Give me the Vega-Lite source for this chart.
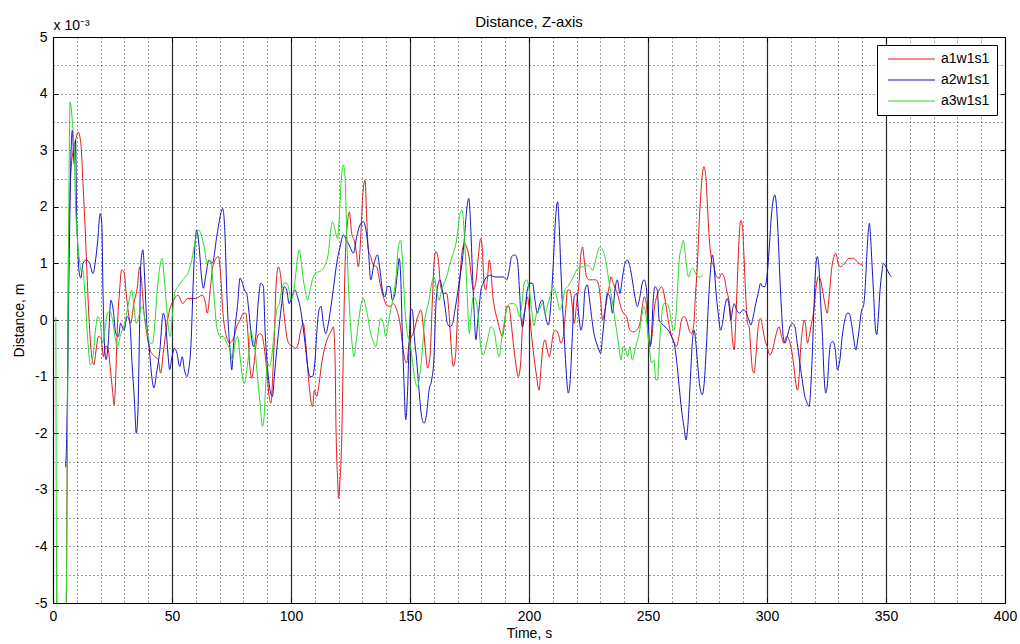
{
"$schema": "https://vega.github.io/schema/vega-lite/v6.json",
"width": 952, "height": 566,
"autosize": {"type": "none"},
"padding": {"left": 53, "top": 37, "right": 15, "bottom": 41},
"background": "white",
"title": {"text": "Distance, Z-axis", "fontSize": 15, "fontWeight": "normal", "font": "Liberation Sans", "color": "#000", "offset": -12},
"config": {"view": {"stroke": null}, "font": "Liberation Sans"},
"datasets": {
"a1": [{"time":1.5,"dist":-4.0},{"time":1.8,"dist":-5.5},{"time":5.4,"dist":-5.5},{"time":6.5,"dist":1.2},{"time":7.5,"dist":2.6},{"time":8.5,"dist":3.0},{"time":9.5,"dist":3.18},{"time":10.6,"dist":3.32},{"time":11.7,"dist":3.12},{"time":12.6,"dist":2.41},{"time":13.3,"dist":1.82},{"time":14,"dist":1.12},{"time":14.7,"dist":0.41},{"time":15.4,"dist":-0.18},{"time":16.3,"dist":-0.65},{"time":17.2,"dist":-0.79},{"time":18.1,"dist":-0.53},{"time":19.1,"dist":-0.29},{"time":20.2,"dist":-0.32},{"time":21.2,"dist":-0.65},{"time":22,"dist":-0.47},{"time":22.9,"dist":-0.47},{"time":24,"dist":-0.82},{"time":25,"dist":-1.24},{"time":25.7,"dist":-1.5},{"time":26.4,"dist":-0.94},{"time":27,"dist":-0.18},{"time":28,"dist":0.53},{"time":28.8,"dist":0.88},{"time":29.8,"dist":0.85},{"time":30.9,"dist":0.41},{"time":31.9,"dist":0.06},{"time":32.6,"dist":-0.06},{"time":34,"dist":0.3},{"time":35.5,"dist":0.6},{"time":36.4,"dist":0.94},{"time":37.2,"dist":0.7},{"time":38,"dist":0.24},{"time":39.4,"dist":-0.24},{"time":40.8,"dist":-0.53},{"time":42.9,"dist":-0.65},{"time":44.2,"dist":-0.7},{"time":45.2,"dist":-0.94},{"time":46.3,"dist":-0.59},{"time":47.7,"dist":-0.12},{"time":49,"dist":0.18},{"time":50.7,"dist":0.35},{"time":52.5,"dist":0.44},{"time":54.5,"dist":0.29},{"time":56.6,"dist":0.38},{"time":60,"dist":0.38},{"time":62.8,"dist":0.44},{"time":64.1,"dist":0.29},{"time":64.8,"dist":0.12},{"time":66.2,"dist":0.59},{"time":67.1,"dist":0.94},{"time":69.5,"dist":1.12},{"time":70.5,"dist":0.76},{"time":71.3,"dist":0.18},{"time":72.3,"dist":-0.18},{"time":73.3,"dist":-0.35},{"time":74.1,"dist":-0.41},{"time":75.1,"dist":-0.38},{"time":76.1,"dist":-0.29},{"time":77.2,"dist":-0.12},{"time":78.6,"dist":0},{"time":80,"dist":0.12},{"time":81,"dist":0.12},{"time":81.8,"dist":-0.18},{"time":82.5,"dist":-0.71},{"time":83.5,"dist":-1.03},{"time":84.5,"dist":-0.76},{"time":85.6,"dist":-0.35},{"time":86.7,"dist":-0.24},{"time":87.7,"dist":-0.26},{"time":88.7,"dist":-0.47},{"time":89.8,"dist":-0.88},{"time":90.8,"dist":-1.35},{"time":91.6,"dist":-1.47},{"time":92.3,"dist":-1.0},{"time":93,"dist":-0.29},{"time":93.7,"dist":0.59},{"time":94.7,"dist":0.94},{"time":95.7,"dist":0.76},{"time":96.5,"dist":0.35},{"time":97.5,"dist":-0.06},{"time":98.5,"dist":-0.35},{"time":99.6,"dist":-0.44},{"time":101,"dist":-0.47},{"time":102.1,"dist":-0.5},{"time":103.1,"dist":-0.41},{"time":104.1,"dist":-0.18},{"time":105.2,"dist":-0.06},{"time":106.2,"dist":-0.41},{"time":107.3,"dist":-1.0},{"time":108.3,"dist":-1.41},{"time":109.1,"dist":-1.53},{"time":109.8,"dist":-1.24},{"time":110.8,"dist":-1.35},{"time":111.8,"dist":-1.12},{"time":112.9,"dist":-0.76},{"time":114.3,"dist":-0.47},{"time":115.7,"dist":-0.29},{"time":117.1,"dist":-0.18},{"time":117.8,"dist":-0.12},{"time":118.5,"dist":-0.65},{"time":118.9,"dist":-1.88},{"time":119.6,"dist":-2.82},{"time":120,"dist":-3.15},{"time":120.6,"dist":-2.82},{"time":121.3,"dist":-2.12},{"time":122,"dist":-0.53},{"time":122.7,"dist":0.94},{"time":123.7,"dist":1.71},{"time":124.5,"dist":1.91},{"time":125.5,"dist":1.53},{"time":126.5,"dist":1.41},{"time":127.3,"dist":1.24},{"time":128.3,"dist":0.94},{"time":129.3,"dist":1.47},{"time":130.1,"dist":2.18},{"time":131.1,"dist":2.47},{"time":131.8,"dist":1.82},{"time":132.5,"dist":1.24},{"time":133.5,"dist":1.12},{"time":134.6,"dist":0.97},{"time":136,"dist":0.94},{"time":137.4,"dist":0.65},{"time":138.8,"dist":0.41},{"time":140.2,"dist":0.26},{"time":141.6,"dist":0.24},{"time":143,"dist":0.29},{"time":144.4,"dist":0.18},{"time":145.8,"dist":-0.06},{"time":146.8,"dist":-0.41},{"time":147.6,"dist":-0.65},{"time":148.6,"dist":-0.76},{"time":149.6,"dist":-0.41},{"time":150.7,"dist":-0.29},{"time":151.8,"dist":-0.18},{"time":152.8,"dist":0},{"time":153.8,"dist":0.12},{"time":154.6,"dist":0.18},{"time":155.6,"dist":-0.12},{"time":156.6,"dist":-0.59},{"time":157.4,"dist":-0.85},{"time":158.4,"dist":-0.65},{"time":159.4,"dist":0.35},{"time":160.2,"dist":1.06},{"time":160.9,"dist":1.21},{"time":161.9,"dist":1.06},{"time":162.9,"dist":0.59},{"time":164,"dist":0.47},{"time":165.4,"dist":0.47},{"time":166.4,"dist":0.12},{"time":167.2,"dist":-0.41},{"time":168.2,"dist":-0.82},{"time":169.2,"dist":-0.59},{"time":170,"dist":0.12},{"time":171,"dist":0.76},{"time":172,"dist":1.24},{"time":173,"dist":1.35},{"time":173.8,"dist":1.29},{"time":174.8,"dist":1.12},{"time":175.8,"dist":0.76},{"time":176.6,"dist":0.53},{"time":177.6,"dist":0.65},{"time":178.7,"dist":1.12},{"time":179.7,"dist":1.44},{"time":180.4,"dist":1.24},{"time":181.1,"dist":0.65},{"time":181.8,"dist":0.53},{"time":182.5,"dist":0.71},{"time":183.3,"dist":1.06},{"time":184,"dist":0.88},{"time":184.7,"dist":0.47},{"time":185.7,"dist":0.18},{"time":186.7,"dist":0},{"time":187.8,"dist":-0.18},{"time":188.8,"dist":-0.29},{"time":189.6,"dist":-0.12},{"time":190.6,"dist":0.24},{"time":191.6,"dist":0.24},{"time":192.4,"dist":0},{"time":193.4,"dist":-0.41},{"time":194.4,"dist":-0.76},{"time":195.5,"dist":-1.0},{"time":196.5,"dist":-0.76},{"time":197.3,"dist":-0.06},{"time":198.3,"dist":0.18},{"time":199.3,"dist":0.41},{"time":200.1,"dist":0.18},{"time":201.1,"dist":-0.29},{"time":202.1,"dist":-0.65},{"time":203.2,"dist":-1.0},{"time":204.2,"dist":-1.24},{"time":205,"dist":-0.88},{"time":205.7,"dist":-0.53},{"time":206.7,"dist":-0.35},{"time":207.7,"dist":-0.53},{"time":208.5,"dist":-0.65},{"time":209.2,"dist":-0.53},{"time":210.2,"dist":-0.24},{"time":211.2,"dist":-0.18},{"time":212.3,"dist":-0.24},{"time":213.4,"dist":-0.41},{"time":214.4,"dist":-0.29},{"time":215.4,"dist":0.18},{"time":216.2,"dist":0.53},{"time":217.2,"dist":0.53},{"time":218.2,"dist":0.24},{"time":219,"dist":-0.06},{"time":220,"dist":0.29},{"time":221,"dist":0.65},{"time":221.7,"dist":1.12},{"time":222.5,"dist":1.29},{"time":223.2,"dist":1.06},{"time":224.2,"dist":0.76},{"time":225.3,"dist":0.71},{"time":226.7,"dist":0.71},{"time":228.1,"dist":0.71},{"time":229.1,"dist":0.65},{"time":230.1,"dist":0.35},{"time":230.9,"dist":0},{"time":231.9,"dist":0.18},{"time":232.9,"dist":0.41},{"time":233.7,"dist":0.59},{"time":234.4,"dist":0.76},{"time":235.4,"dist":0.65},{"time":236.5,"dist":0.53},{"time":237.5,"dist":0.41},{"time":238.5,"dist":0.24},{"time":239.6,"dist":0.12},{"time":241,"dist":0.06},{"time":242.4,"dist":-0.18},{"time":243.8,"dist":-0.21},{"time":245.2,"dist":-0.18},{"time":246.6,"dist":-0.06},{"time":247.6,"dist":0.24},{"time":248.4,"dist":0.41},{"time":249.4,"dist":0.24},{"time":250.1,"dist":-0.29},{"time":250.8,"dist":-0.47},{"time":251.8,"dist":-0.24},{"time":252.6,"dist":0.18},{"time":253.6,"dist":0.41},{"time":254.7,"dist":0.53},{"time":255.7,"dist":0.59},{"time":256.7,"dist":0.47},{"time":257.8,"dist":0.18},{"time":259,"dist":-0.12},{"time":259.9,"dist":-0.29},{"time":261,"dist":-0.41},{"time":262,"dist":-0.47},{"time":263,"dist":-0.29},{"time":264.1,"dist":0},{"time":265.1,"dist":0.06},{"time":266.2,"dist":0},{"time":267.3,"dist":-0.18},{"time":268.3,"dist":-0.24},{"time":269.3,"dist":-0.06},{"time":269.9,"dist":0.41},{"time":270.7,"dist":0.94},{"time":271.5,"dist":1.71},{"time":272.5,"dist":2.41},{"time":273.5,"dist":2.71},{"time":274.3,"dist":2.53},{"time":275,"dist":2.0},{"time":275.7,"dist":1.47},{"time":276.7,"dist":1.06},{"time":277.7,"dist":0.94},{"time":278.8,"dist":0.76},{"time":279.9,"dist":0.74},{"time":280.9,"dist":0.82},{"time":282,"dist":0.76},{"time":283,"dist":0.53},{"time":284,"dist":0.35},{"time":284.8,"dist":0.06},{"time":285.5,"dist":-0.35},{"time":286.2,"dist":-0.53},{"time":286.9,"dist":0},{"time":287.6,"dist":0.76},{"time":288.3,"dist":1.47},{"time":289,"dist":1.76},{"time":289.7,"dist":1.65},{"time":290.4,"dist":1.06},{"time":291.1,"dist":0.41},{"time":291.8,"dist":-0.06},{"time":292.5,"dist":-0.12},{"time":293.2,"dist":-0.53},{"time":293.9,"dist":-0.88},{"time":294.6,"dist":-0.94},{"time":295.3,"dist":-0.65},{"time":296.3,"dist":-0.12},{"time":297.3,"dist":0.03},{"time":298.1,"dist":-0.12},{"time":299.1,"dist":-0.35},{"time":300.1,"dist":-0.47},{"time":301.2,"dist":-0.62},{"time":302.3,"dist":-0.53},{"time":303.3,"dist":-0.35},{"time":304.3,"dist":-0.18},{"time":305.1,"dist":-0.12},{"time":306.1,"dist":-0.29},{"time":307.1,"dist":-0.41},{"time":308.2,"dist":-0.29},{"time":309.3,"dist":-0.35},{"time":310.3,"dist":-0.53},{"time":311.3,"dist":-0.82},{"time":312.1,"dist":-1.12},{"time":312.8,"dist":-1.24},{"time":313.5,"dist":-1.0},{"time":314.2,"dist":-0.47},{"time":314.9,"dist":-0.18},{"time":315.6,"dist":0},{"time":316.3,"dist":-0.12},{"time":317,"dist":-0.41},{"time":317.7,"dist":-0.29},{"time":318.7,"dist":-0.06},{"time":319.7,"dist":0.18},{"time":320.5,"dist":0.53},{"time":321.5,"dist":0.76},{"time":322.5,"dist":0.71},{"time":323.3,"dist":0.53},{"time":324.3,"dist":0.29},{"time":325.3,"dist":0.12},{"time":326.1,"dist":0.41},{"time":327.1,"dist":0.88},{"time":328.1,"dist":1.12},{"time":328.9,"dist":1.18},{"time":329.9,"dist":1.0},{"time":330.9,"dist":0.94},{"time":332,"dist":0.97},{"time":333.1,"dist":1.03},{"time":334.5,"dist":1.09},{"time":335.9,"dist":1.09},{"time":337.3,"dist":1.06},{"time":338.7,"dist":1.0},{"time":340.2,"dist":0.97}],
"a2": [{"time":5.3,"dist":-2.6},{"time":5.7,"dist":-2.2},{"time":6.7,"dist":0.76},{"time":7.6,"dist":3.0},{"time":8.1,"dist":3.35},{"time":8.9,"dist":2.76},{"time":9.5,"dist":3.18},{"time":9.9,"dist":1.88},{"time":10.3,"dist":1.41},{"time":10.9,"dist":0.88},{"time":11.7,"dist":0.74},{"time":12.6,"dist":1.0},{"time":14,"dist":1.06},{"time":15.4,"dist":1.0},{"time":16.8,"dist":0.82},{"time":17.7,"dist":1.0},{"time":18.8,"dist":1.41},{"time":19.8,"dist":1.88},{"time":20.5,"dist":1.71},{"time":21,"dist":0.53},{"time":21.6,"dist":-0.41},{"time":22.3,"dist":-0.7},{"time":23.2,"dist":-0.41},{"time":24.3,"dist":0.35},{"time":25.3,"dist":0.18},{"time":26.4,"dist":-0.24},{"time":27.5,"dist":-0.29},{"time":28.4,"dist":-0.06},{"time":29.8,"dist":-0.18},{"time":31.2,"dist":0.06},{"time":32.3,"dist":-0.06},{"time":33.2,"dist":-0.76},{"time":34.2,"dist":-1.41},{"time":35,"dist":-2.0},{"time":35.7,"dist":-1.59},{"time":36.4,"dist":-0.06},{"time":36.9,"dist":1.0},{"time":37.8,"dist":1.24},{"time":38.5,"dist":0.76},{"time":39.4,"dist":-0.06},{"time":40.5,"dist":-0.53},{"time":41.5,"dist":-1.0},{"time":42.4,"dist":-1.2},{"time":43.5,"dist":-0.94},{"time":44.9,"dist":-0.53},{"time":46.3,"dist":0.12},{"time":47.3,"dist":-0.06},{"time":48.4,"dist":-0.65},{"time":49,"dist":-0.88},{"time":50,"dist":-0.65},{"time":51.1,"dist":-0.5},{"time":52.1,"dist":-0.59},{"time":53.2,"dist":-0.82},{"time":54.3,"dist":-0.65},{"time":55.2,"dist":-0.88},{"time":56.3,"dist":-1.0},{"time":57,"dist":-0.88},{"time":58,"dist":-0.41},{"time":58.9,"dist":0.65},{"time":59.6,"dist":1.29},{"time":60.4,"dist":1.59},{"time":61.4,"dist":1.29},{"time":62.4,"dist":0.76},{"time":63.2,"dist":0.56},{"time":64.1,"dist":0.76},{"time":65.5,"dist":1.06},{"time":66.9,"dist":1.0},{"time":68.8,"dist":1.47},{"time":70.2,"dist":1.82},{"time":71.3,"dist":1.97},{"time":72.3,"dist":1.47},{"time":73,"dist":0.53},{"time":73.7,"dist":-0.12},{"time":74.4,"dist":-0.53},{"time":75.1,"dist":-0.88},{"time":75.8,"dist":-0.47},{"time":76.5,"dist":-0.12},{"time":77.5,"dist":0.24},{"time":78.6,"dist":0.74},{"time":79.6,"dist":0.65},{"time":80.4,"dist":0.53},{"time":81.4,"dist":0.47},{"time":82.1,"dist":0.24},{"time":83.1,"dist":-0.18},{"time":84.2,"dist":-0.47},{"time":85.2,"dist":-0.29},{"time":86.3,"dist":0.35},{"time":87.3,"dist":0.65},{"time":88.4,"dist":0.59},{"time":89.1,"dist":-0.18},{"time":90.1,"dist":-0.82},{"time":91.2,"dist":-1.24},{"time":92.2,"dist":-1.35},{"time":93,"dist":-1.0},{"time":94,"dist":-0.53},{"time":95,"dist":-0.12},{"time":96.1,"dist":0.29},{"time":97.1,"dist":0.59},{"time":98.2,"dist":0.53},{"time":99.2,"dist":0.29},{"time":100.3,"dist":0.41},{"time":101.7,"dist":0.53},{"time":102.7,"dist":0.41},{"time":103.8,"dist":0.24},{"time":104.9,"dist":-0.06},{"time":105.9,"dist":-0.41},{"time":107,"dist":-0.82},{"time":108,"dist":-1.0},{"time":109,"dist":-1.0},{"time":110.1,"dist":-0.71},{"time":110.8,"dist":-0.24},{"time":111.8,"dist":0.18},{"time":112.6,"dist":0.24},{"time":113.6,"dist":-0.06},{"time":114.6,"dist":-0.24},{"time":115.7,"dist":-0.06},{"time":116.8,"dist":0.24},{"time":118.1,"dist":0.65},{"time":119.2,"dist":1.0},{"time":120.6,"dist":1.29},{"time":122,"dist":1.5},{"time":123.4,"dist":1.41},{"time":124.8,"dist":1.29},{"time":126.2,"dist":1.18},{"time":127.6,"dist":1.47},{"time":129,"dist":1.68},{"time":130.4,"dist":1.74},{"time":131.5,"dist":1.59},{"time":132.5,"dist":1.24},{"time":133.5,"dist":0.71},{"time":134.9,"dist":1.0},{"time":136.3,"dist":1.15},{"time":137.4,"dist":0.88},{"time":138.4,"dist":0.53},{"time":139.5,"dist":0.41},{"time":140.5,"dist":0.59},{"time":141.6,"dist":0.59},{"time":142.6,"dist":0.35},{"time":143.7,"dist":0.47},{"time":144.7,"dist":0.82},{"time":145.5,"dist":1.09},{"time":146.1,"dist":0.76},{"time":146.8,"dist":-0.29},{"time":147.5,"dist":-1.12},{"time":148.2,"dist":-1.76},{"time":148.9,"dist":-1.35},{"time":149.6,"dist":-0.47},{"time":150.3,"dist":0.18},{"time":151,"dist":0.18},{"time":151.8,"dist":-0.29},{"time":152.8,"dist":-0.71},{"time":153.8,"dist":-1.24},{"time":154.9,"dist":-1.71},{"time":155.9,"dist":-1.82},{"time":157,"dist":-1.65},{"time":158,"dist":-1.24},{"time":159.1,"dist":-1.06},{"time":160.1,"dist":-0.65},{"time":160.8,"dist":0.18},{"time":161.6,"dist":0.59},{"time":162.6,"dist":0.71},{"time":163.6,"dist":0.53},{"time":164.7,"dist":0.24},{"time":165.7,"dist":-0.06},{"time":166.8,"dist":-0.12},{"time":167.9,"dist":-0.06},{"time":168.9,"dist":0.18},{"time":170,"dist":0.47},{"time":171,"dist":0.76},{"time":172,"dist":1.06},{"time":172.8,"dist":1.41},{"time":173.8,"dist":1.94},{"time":174.7,"dist":2.15},{"time":175.5,"dist":1.65},{"time":176.2,"dist":0.88},{"time":176.9,"dist":0.18},{"time":177.7,"dist":-0.35},{"time":178.4,"dist":-0.06},{"time":179.1,"dist":0.24},{"time":179.8,"dist":0.53},{"time":180.8,"dist":0.65},{"time":182.2,"dist":0.76},{"time":183.9,"dist":0.79},{"time":185.7,"dist":0.76},{"time":187.8,"dist":0.76},{"time":189.2,"dist":0.76},{"time":190.6,"dist":0.71},{"time":191.7,"dist":0.88},{"time":192.7,"dist":1.12},{"time":194.1,"dist":1.15},{"time":195.1,"dist":1.06},{"time":196,"dist":0.53},{"time":196.6,"dist":0.06},{"time":197.3,"dist":-0.12},{"time":198.3,"dist":0.18},{"time":199.3,"dist":0.53},{"time":200.4,"dist":0.65},{"time":201.5,"dist":0.65},{"time":202.5,"dist":0.35},{"time":203.5,"dist":0.12},{"time":204.6,"dist":0.29},{"time":205.7,"dist":0.35},{"time":206.7,"dist":0.12},{"time":208.1,"dist":-0.09},{"time":209.1,"dist":0.24},{"time":209.9,"dist":0.76},{"time":210.6,"dist":1.35},{"time":211.3,"dist":1.88},{"time":212,"dist":2.09},{"time":212.7,"dist":1.65},{"time":213.4,"dist":0.88},{"time":214.1,"dist":0.24},{"time":214.8,"dist":-0.29},{"time":215.5,"dist":-0.82},{"time":216.5,"dist":-1.29},{"time":217.2,"dist":-1.12},{"time":218.2,"dist":-0.29},{"time":219,"dist":0.41},{"time":220,"dist":0.47},{"time":221,"dist":0.06},{"time":221.8,"dist":-0.18},{"time":222.8,"dist":0.06},{"time":223.5,"dist":0.53},{"time":224.5,"dist":0.62},{"time":225.3,"dist":0.41},{"time":226.3,"dist":0.06},{"time":227.3,"dist":-0.24},{"time":228.4,"dist":-0.41},{"time":229.4,"dist":-0.53},{"time":230.1,"dist":-0.59},{"time":230.9,"dist":-0.29},{"time":231.9,"dist":0.12},{"time":232.9,"dist":0.47},{"time":234,"dist":0.41},{"time":235.1,"dist":0.12},{"time":236.1,"dist":0.53},{"time":237.1,"dist":0.71},{"time":238.2,"dist":0.47},{"time":239.3,"dist":0.76},{"time":240.3,"dist":1.0},{"time":241.3,"dist":1.06},{"time":242.4,"dist":0.94},{"time":243.4,"dist":0.71},{"time":244.5,"dist":0.41},{"time":245.5,"dist":0.24},{"time":246.6,"dist":0.41},{"time":247.6,"dist":0.65},{"time":248.4,"dist":0.71},{"time":249.4,"dist":0.53},{"time":250.1,"dist":-0.06},{"time":250.8,"dist":-0.47},{"time":251.5,"dist":-0.24},{"time":252.2,"dist":0.35},{"time":252.9,"dist":0.59},{"time":253.9,"dist":0.53},{"time":254.7,"dist":0},{"time":255.7,"dist":-0.06},{"time":257.1,"dist":-0.12},{"time":258.5,"dist":-0.18},{"time":259.9,"dist":-0.29},{"time":261,"dist":-0.41},{"time":262,"dist":-0.71},{"time":263.1,"dist":-1.18},{"time":264.1,"dist":-1.59},{"time":265.1,"dist":-1.88},{"time":266,"dist":-2.12},{"time":266.6,"dist":-1.94},{"time":267.3,"dist":-1.47},{"time":268,"dist":-0.88},{"time":268.7,"dist":-0.35},{"time":269.4,"dist":-0.18},{"time":270.3,"dist":-0.5},{"time":271.1,"dist":-0.9},{"time":271.8,"dist":-1.18},{"time":272.8,"dist":-1.32},{"time":273.6,"dist":-1.12},{"time":274.6,"dist":-0.41},{"time":275.6,"dist":0.47},{"time":276.4,"dist":0.94},{"time":277.1,"dist":1.15},{"time":277.8,"dist":0.94},{"time":278.5,"dist":0.53},{"time":279.5,"dist":0.12},{"time":280.5,"dist":-0.18},{"time":281.3,"dist":-0.06},{"time":282.3,"dist":0.24},{"time":283.3,"dist":0.38},{"time":284.1,"dist":0.24},{"time":284.8,"dist":0},{"time":285.5,"dist":0.18},{"time":286.2,"dist":0.29},{"time":287.2,"dist":0.18},{"time":288.6,"dist":0.12},{"time":290,"dist":0.18},{"time":291.4,"dist":0.12},{"time":292.4,"dist":0},{"time":293.2,"dist":-0.09},{"time":294.2,"dist":0.06},{"time":295.3,"dist":0.29},{"time":296.3,"dist":0.47},{"time":297.3,"dist":0.65},{"time":298.1,"dist":0.59},{"time":299.1,"dist":0.59},{"time":300.1,"dist":0.82},{"time":300.9,"dist":1.24},{"time":301.8,"dist":1.82},{"time":302.6,"dist":2.12},{"time":303.3,"dist":2.21},{"time":304,"dist":2.0},{"time":304.7,"dist":1.47},{"time":305.4,"dist":0.76},{"time":306.1,"dist":0.18},{"time":306.8,"dist":-0.29},{"time":307.5,"dist":-0.41},{"time":308.5,"dist":-0.29},{"time":309.6,"dist":-0.12},{"time":310.7,"dist":-0.06},{"time":311.7,"dist":-0.12},{"time":312.7,"dist":-0.41},{"time":313.8,"dist":-0.76},{"time":315,"dist":-1.12},{"time":315.9,"dist":-1.35},{"time":316.9,"dist":-1.47},{"time":317.7,"dist":-1.53},{"time":318.4,"dist":-1.18},{"time":319.1,"dist":-0.53},{"time":319.7,"dist":0.18},{"time":320.4,"dist":0.88},{"time":321.1,"dist":1.12},{"time":321.8,"dist":0.94},{"time":322.5,"dist":0.35},{"time":323.3,"dist":-0.29},{"time":324,"dist":-1.0},{"time":324.7,"dist":-1.29},{"time":325.4,"dist":-1.12},{"time":326.1,"dist":-0.65},{"time":326.8,"dist":-0.41},{"time":327.8,"dist":-0.38},{"time":328.7,"dist":-0.53},{"time":329.6,"dist":-0.88},{"time":330.6,"dist":-0.71},{"time":331.6,"dist":-0.29},{"time":332.7,"dist":0},{"time":333.7,"dist":0.12},{"time":334.5,"dist":0.12},{"time":335.5,"dist":-0.06},{"time":336.5,"dist":-0.35},{"time":337.3,"dist":-0.53},{"time":338.3,"dist":-0.3},{"time":339.8,"dist":0.18},{"time":340.5,"dist":0.24},{"time":341.2,"dist":0.53},{"time":341.9,"dist":1.12},{"time":342.6,"dist":1.59},{"time":343,"dist":1.71},{"time":343.6,"dist":1.41},{"time":344.1,"dist":1.0},{"time":344.7,"dist":0.53},{"time":345.4,"dist":-0.06},{"time":346.1,"dist":-0.26},{"time":346.8,"dist":0.06},{"time":347.5,"dist":0.53},{"time":348.2,"dist":0.82},{"time":348.9,"dist":1.0},{"time":349.6,"dist":0.97},{"time":350.6,"dist":0.88},{"time":351.7,"dist":0.79},{"time":352.4,"dist":0.76}],
"a3": [{"time":1.2,"dist":0.05},{"time":1.6,"dist":-5.5},{"time":5.3,"dist":-5.5},{"time":7.2,"dist":3.85},{"time":8.2,"dist":3.47},{"time":8.9,"dist":3.0},{"time":9.5,"dist":2.0},{"time":10.3,"dist":1.41},{"time":11.3,"dist":1.0},{"time":12,"dist":0.85},{"time":12.6,"dist":0.88},{"time":13.3,"dist":0.53},{"time":14,"dist":0.06},{"time":14.7,"dist":-0.41},{"time":15.7,"dist":-0.79},{"time":16.8,"dist":-0.65},{"time":17.7,"dist":-0.24},{"time":18.8,"dist":0.06},{"time":19.9,"dist":-0.06},{"time":20.9,"dist":-0.41},{"time":21.8,"dist":-0.18},{"time":22.9,"dist":0.12},{"time":24,"dist":0.15},{"time":25,"dist":0},{"time":26,"dist":-0.29},{"time":27.1,"dist":-0.47},{"time":28.2,"dist":-0.29},{"time":29.1,"dist":-0.18},{"time":30.1,"dist":-0.06},{"time":31.2,"dist":0.18},{"time":32.3,"dist":0.41},{"time":33,"dist":0.53},{"time":33.9,"dist":0.29},{"time":35,"dist":-0.06},{"time":36,"dist":0.06},{"time":37.4,"dist":0.24},{"time":38.7,"dist":0},{"time":39.7,"dist":-0.24},{"time":40.8,"dist":-0.41},{"time":41.8,"dist":-0.41},{"time":42.9,"dist":0},{"time":43.8,"dist":0.53},{"time":44.9,"dist":0.94},{"time":45.9,"dist":1.09},{"time":46.7,"dist":0.76},{"time":47.7,"dist":0.24},{"time":48.6,"dist":-0.18},{"time":49.3,"dist":-0.29},{"time":50.1,"dist":0.06},{"time":51.1,"dist":0.47},{"time":52.5,"dist":0.59},{"time":54.5,"dist":0.71},{"time":56.6,"dist":0.82},{"time":58,"dist":1.0},{"time":59.3,"dist":1.29},{"time":61.1,"dist":1.59},{"time":62.1,"dist":1.53},{"time":63.5,"dist":1.29},{"time":64.8,"dist":1.0},{"time":66.2,"dist":1.06},{"time":67.5,"dist":0.5},{"time":68.8,"dist":-0.12},{"time":70.2,"dist":-0.29},{"time":71.6,"dist":-0.29},{"time":73,"dist":-0.41},{"time":74.4,"dist":-0.53},{"time":75.4,"dist":-0.71},{"time":76.5,"dist":-0.41},{"time":77.6,"dist":-0.29},{"time":78.6,"dist":-0.65},{"time":79.6,"dist":-1.0},{"time":80.4,"dist":-1.12},{"time":81.4,"dist":-0.88},{"time":82.4,"dist":-0.53},{"time":83.1,"dist":-0.18},{"time":83.8,"dist":-0.29},{"time":84.9,"dist":-0.53},{"time":85.9,"dist":-1.0},{"time":87,"dist":-1.47},{"time":88,"dist":-1.88},{"time":88.7,"dist":-1.71},{"time":89.4,"dist":-1.12},{"time":90.1,"dist":-0.76},{"time":90.9,"dist":-0.82},{"time":91.9,"dist":-0.65},{"time":92.9,"dist":-0.24},{"time":94,"dist":0.18},{"time":95.1,"dist":0.29},{"time":96.1,"dist":0.53},{"time":97.1,"dist":0.65},{"time":98.2,"dist":0.65},{"time":99.2,"dist":0.53},{"time":100,"dist":0.35},{"time":101,"dist":0.47},{"time":102,"dist":0.82},{"time":102.8,"dist":1.12},{"time":103.5,"dist":1.24},{"time":104.2,"dist":1.06},{"time":105.2,"dist":0.71},{"time":106.2,"dist":0.47},{"time":107,"dist":0.35},{"time":108,"dist":0.53},{"time":109,"dist":0.71},{"time":110.1,"dist":0.82},{"time":111.5,"dist":0.85},{"time":112.9,"dist":0.88},{"time":114.3,"dist":0.97},{"time":115.7,"dist":1.18},{"time":116.7,"dist":1.59},{"time":117.5,"dist":1.74},{"time":118.5,"dist":1.59},{"time":119.5,"dist":1.44},{"time":120.3,"dist":1.82},{"time":121,"dist":2.41},{"time":122,"dist":2.74},{"time":122.7,"dist":2.53},{"time":123.4,"dist":1.53},{"time":124.1,"dist":0.65},{"time":124.8,"dist":0.06},{"time":125.8,"dist":-0.47},{"time":126.5,"dist":-0.65},{"time":127.3,"dist":-0.41},{"time":128.3,"dist":-0.06},{"time":129.3,"dist":0.24},{"time":130.4,"dist":0.38},{"time":131.4,"dist":0.24},{"time":132.5,"dist":0},{"time":133.5,"dist":-0.24},{"time":134.6,"dist":-0.38},{"time":135.7,"dist":-0.47},{"time":136.6,"dist":-0.24},{"time":137.6,"dist":0.03},{"time":138.8,"dist":-0.06},{"time":139.8,"dist":-0.29},{"time":140.9,"dist":-0.06},{"time":141.9,"dist":0.18},{"time":143,"dist":0.41},{"time":144.1,"dist":0.76},{"time":145.1,"dist":1.29},{"time":146.1,"dist":1.41},{"time":146.9,"dist":1.0},{"time":147.9,"dist":0.18},{"time":148.9,"dist":-0.24},{"time":150,"dist":-0.41},{"time":151.1,"dist":-0.76},{"time":152.1,"dist":-1.06},{"time":153.1,"dist":-1.18},{"time":154.2,"dist":-0.94},{"time":155.2,"dist":-0.53},{"time":156,"dist":-0.06},{"time":157,"dist":0.18},{"time":158,"dist":0.35},{"time":159.1,"dist":0.65},{"time":160.1,"dist":0.76},{"time":161.2,"dist":0.53},{"time":162.2,"dist":0.35},{"time":163.3,"dist":0.53},{"time":164.3,"dist":0.65},{"time":165.4,"dist":0.76},{"time":166.8,"dist":1.0},{"time":168.2,"dist":1.18},{"time":169.3,"dist":1.35},{"time":170.3,"dist":1.65},{"time":171,"dist":1.88},{"time":171.9,"dist":1.94},{"time":172.7,"dist":1.59},{"time":173.5,"dist":0.94},{"time":174.2,"dist":0.29},{"time":174.9,"dist":-0.24},{"time":175.6,"dist":0.06},{"time":176.6,"dist":0.41},{"time":177.7,"dist":0.35},{"time":178.7,"dist":0.06},{"time":179.7,"dist":-0.47},{"time":180.8,"dist":-0.62},{"time":181.9,"dist":-0.47},{"time":182.9,"dist":-0.29},{"time":184,"dist":-0.12},{"time":185.3,"dist":-0.18},{"time":186.4,"dist":-0.47},{"time":187.5,"dist":-0.65},{"time":188.5,"dist":-0.35},{"time":189.5,"dist":-0.06},{"time":190.6,"dist":0.18},{"time":192,"dist":0.29},{"time":193.4,"dist":0.29},{"time":194.8,"dist":0.24},{"time":195.9,"dist":0.06},{"time":196.9,"dist":0.24},{"time":198,"dist":0.65},{"time":199,"dist":0.71},{"time":200.1,"dist":0.53},{"time":201.1,"dist":0.18},{"time":202.1,"dist":-0.1},{"time":203.2,"dist":0.12},{"time":204.6,"dist":0.2},{"time":205.7,"dist":0.3},{"time":206.7,"dist":0.12},{"time":207.7,"dist":0.24},{"time":208.8,"dist":0.41},{"time":209.9,"dist":0.59},{"time":210.9,"dist":0.53},{"time":211.9,"dist":0.35},{"time":213,"dist":0.18},{"time":214,"dist":0.29},{"time":215.1,"dist":0.53},{"time":216.2,"dist":0.59},{"time":217.2,"dist":0.65},{"time":218.6,"dist":0.76},{"time":220,"dist":0.88},{"time":221.4,"dist":0.94},{"time":222.8,"dist":0.94},{"time":224.2,"dist":0.97},{"time":225.6,"dist":0.94},{"time":226.7,"dist":0.88},{"time":227.7,"dist":1.0},{"time":228.7,"dist":1.18},{"time":229.8,"dist":1.29},{"time":230.9,"dist":1.24},{"time":231.9,"dist":1.12},{"time":232.9,"dist":0.88},{"time":233.7,"dist":0.65},{"time":234.7,"dist":0.41},{"time":235.7,"dist":0.12},{"time":236.8,"dist":-0.18},{"time":237.8,"dist":-0.47},{"time":238.6,"dist":-0.71},{"time":239.6,"dist":-0.47},{"time":240.6,"dist":-0.53},{"time":241.4,"dist":-0.65},{"time":242.4,"dist":-0.47},{"time":243.4,"dist":-0.71},{"time":244.2,"dist":-0.59},{"time":245.2,"dist":-0.41},{"time":246.3,"dist":-0.24},{"time":247.3,"dist":0.06},{"time":248.4,"dist":0.24},{"time":249.4,"dist":0},{"time":250.4,"dist":-0.41},{"time":251.5,"dist":-0.76},{"time":252.5,"dist":-0.71},{"time":253.3,"dist":-1.06},{"time":254,"dist":-1.06},{"time":254.7,"dist":-0.53},{"time":255.7,"dist":0.06},{"time":256.7,"dist":0.29},{"time":257.8,"dist":0.29},{"time":259,"dist":0.18},{"time":259.9,"dist":-0.06},{"time":260.9,"dist":-0.18},{"time":261.7,"dist":0.06},{"time":262.4,"dist":0.53},{"time":263.1,"dist":1.06},{"time":264.1,"dist":1.29},{"time":264.8,"dist":1.41},{"time":265.5,"dist":1.24},{"time":266.2,"dist":0.94},{"time":267.1,"dist":0.76},{"time":268,"dist":0.88},{"time":269,"dist":0.91},{"time":270,"dist":0.82},{"time":271,"dist":0.76},{"time":272,"dist":0.76},{"time":273,"dist":0.8}]
},
"layer": [
 {
  "data": {"name": "a1"},
  "mark": {"type": "line", "strokeWidth": 1, "clip": true, "interpolate": "monotone"},
  "encoding": {
   "x": {"field": "time", "type": "quantitative", "scale": {"domain": [0, 400], "nice": false, "zero": false},
    "title": "Time, s",
    "axis": {
     "values": [0,10,20,30,40,50,60,70,80,90,100,110,120,130,140,150,160,170,180,190,200,210,220,230,240,250,260,270,280,290,300,310,320,330,340,350,360,370,380,390,400],
     "labelExpr": "datum.value % 50 === 0 ? '' + datum.value : ''",
     "grid": true,
     "gridColor": {"condition": {"test": "datum.value % 50 === 0", "value": "#111111"}, "value": "#000000"},
     "gridDash": {"condition": {"test": "datum.value % 50 === 0", "value": []}, "value": [1, 3]},
     "gridOpacity": {"condition": {"test": "datum.value % 50 === 0", "value": 0.9}, "value": 0.75},
     "gridWidth": {"condition": {"test": "datum.value % 50 === 0", "value": 1.2}, "value": 1},
     "tickSize": -5, "tickColor": "#000",
     "tickOpacity": {"condition": {"test": "datum.value % 50 === 0", "value": 1}, "value": 0},
     "domainColor": "#000", "labelColor": "#000", "labelFontSize": 14, "labelFont": "Liberation Sans",
     "labelPadding": 11, "labelFlush": false, "labelOverlap": false,
     "titleFontSize": 14, "titleFontWeight": "normal", "titleColor": "#000", "titlePadding": 3
    }},
   "y": {"field": "dist", "type": "quantitative", "scale": {"domain": [-5, 5], "nice": false, "zero": false},
    "title": "Distance, m",
    "axis": {
     "values": [-5,-4.5,-4,-3.5,-3,-2.5,-2,-1.5,-1,-0.5,0,0.5,1,1.5,2,2.5,3,3.5,4,4.5,5],
     "labelExpr": "datum.value % 1 === 0 ? '' + datum.value : ''",
     "grid": true, "gridColor": "#000", "gridDash": [1, 3], "gridOpacity": 0.75,
     "tickSize": -5, "tickColor": "#000",
     "tickOpacity": {"condition": {"test": "datum.value % 1 === 0", "value": 1}, "value": 0},
     "domainColor": "#000", "labelColor": "#000", "labelFontSize": 14, "labelFont": "Liberation Sans",
     "labelPadding": 11, "labelFlush": false, "labelOverlap": false,
     "titleFontSize": 14, "titleFontWeight": "normal", "titleColor": "#000", "titlePadding": 8
    }},
   "color": {"datum": "a1w1s1", "type": "nominal",
    "scale": {"domain": ["a1w1s1", "a2w1s1", "a3w1s1"], "range": ["#e01b1b", "#1414c8", "#28dc28"]},
    "legend": {"title": null, "orient": "top-right", "offset": 8, "strokeColor": "#000", "fillColor": "#fff",
     "padding": 7, "symbolType": "M-0.6,0H8.8", "symbolSize": 100, "symbolStrokeWidth": 1.2,
     "labelFontSize": 14, "labelFont": "Liberation Sans", "labelColor": "#000", "rowPadding": 7, "labelOffset": 43, "cornerRadius": 0}}
  }
 },
 {
  "data": {"name": "a2"},
  "mark": {"type": "line", "strokeWidth": 1, "clip": true, "interpolate": "monotone"},
  "encoding": {
   "x": {"field": "time", "type": "quantitative", "axis": null},
   "y": {"field": "dist", "type": "quantitative", "axis": null},
   "color": {"datum": "a2w1s1", "type": "nominal"}
  }
 },
 {
  "data": {"name": "a3"},
  "mark": {"type": "line", "strokeWidth": 1, "clip": true, "interpolate": "monotone"},
  "encoding": {
   "x": {"field": "time", "type": "quantitative", "axis": null},
   "y": {"field": "dist", "type": "quantitative", "axis": null},
   "color": {"datum": "a3w1s1", "type": "nominal"}
  }
 },
 {
  "data": {"name": "a1"},
  "mark": {"type": "point", "opacity": 0},
  "encoding": {
   "x": {"field": "time", "type": "quantitative",
    "axis": {"orient": "top", "values": [0,50,100,150,200,250,300,350,400], "labels": false, "grid": false,
     "tickSize": -5, "tickColor": "#000", "domainColor": "#000",
     "title": "x 10⁻³", "titleAnchor": "start", "titleAlign": "left", "titleAngle": 0, "titleBaseline": "alphabetic",
     "titleX": 0, "titleY": -8, "titleFontSize": 14, "titleFontWeight": "normal", "titleColor": "#000", "titleFont": "Liberation Sans"}},
   "y": {"field": "dist", "type": "quantitative",
    "axis": {"orient": "right", "values": [-5,-4,-3,-2,-1,0,1,2,3,4,5], "labels": false, "grid": false,
     "tickSize": -5, "tickColor": "#000", "domainColor": "#000", "title": null}}
  }
 }
],
"resolve": {"axis": {"x": "independent", "y": "independent"}}
}
